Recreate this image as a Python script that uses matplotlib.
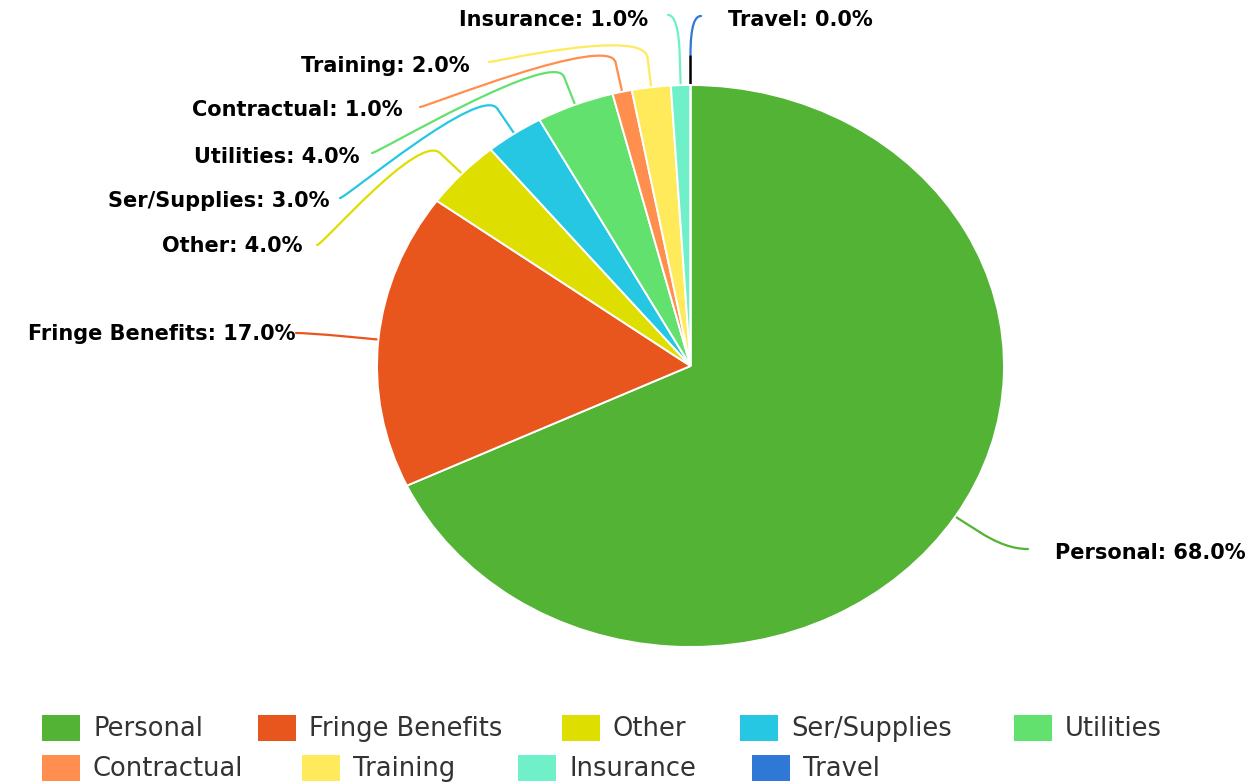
import numpy as np
from matplotlib import pyplot as plt
from matplotlib.path import Path
from matplotlib.patches import PathPatch, Rectangle

# budget shares in percent, pie drawn clockwise from 12 o'clock
names = ['Personal', 'Fringe Benefits', 'Other', 'Ser/Supplies', 'Utilities',
         'Contractual', 'Training', 'Insurance', 'Travel']
values = [68.0, 17.0, 4.0, 3.0, 4.0, 1.0, 2.0, 1.0, 0.0]
colors = ['#53b335', '#e8561d', '#dede00', '#25c7e2', '#63e16e',
          '#ff8e4f', '#ffea5c', '#6ff0c8', '#2f78d6']

# label layout (pixels): text anchor, side, connector start
label_xy = [(1055, 553), (295, 334), (302, 246), (330, 201), (360, 157),
            (403, 110), (470, 66), (648, 20), (728, 20)]
label_ha = ['left', 'right', 'right', 'right', 'right', 'right', 'right', 'right', 'left']
conn_xy = [(1028, 549), (296, 333), (317, 245), (340, 198), (372, 153),
           (420, 107), (489, 62), (668, 15), (701, 16)]

# legend layout: two rows, box left edges
legend_x = [42, 258, 562, 740, 1014, 42, 302, 518, 752]
legend_row = [0, 0, 0, 0, 0, 1, 1, 1, 1]

W, H = 1255, 784
cx, cy, rx, ry = 690.5, 366.0, 313.5, 281.0
brk = 30.0

fig = plt.figure(figsize=(W / 100, H / 100), dpi=100)
fig.patch.set_facecolor('white')
ax = fig.add_axes([0, 0, 1, 1])
ax.set_xlim(0, W)
ax.set_ylim(H, 0)
ax.axis('off')

# pie in its own axes so it can be stretched to an ellipse
pax = fig.add_axes([(cx - rx) / W, 1 - (cy + ry) / H, 2 * rx / W, 2 * ry / H])
pax.pie(values, colors=colors, startangle=90, counterclock=False, radius=1,
        wedgeprops=dict(edgecolor='white', linewidth=1.4))
pax.set_aspect('auto')
pax.set_xlim(-1, 1)
pax.set_ylim(-1, 1)
pax.axis('off')

# connectors and labels
cum = np.cumsum(values) - np.array(values) / 2
ang = np.radians(90 - cum / np.sum(values) * 360)
for i, name in enumerate(names):
    ex, ey = cx + rx * np.cos(ang[i]), cy - ry * np.sin(ang[i])
    bx, by = cx + (rx + brk) * np.cos(ang[i]), cy - (ry + brk) * np.sin(ang[i])
    sx, sy = conn_xy[i]
    dx = 6 if sx < cx else -6
    curve = Path([(sx, sy), (sx + dx, sy), (2 * bx - ex, 2 * by - ey), (bx, by)],
                 [Path.MOVETO, Path.CURVE4, Path.CURVE4, Path.CURVE4])
    ax.add_patch(PathPatch(curve, fill=False, edgecolor=colors[i], lw=1.6,
                           capstyle='round'))
    # zero slice: straight part drawn dark
    seg_c = 'black' if values[i] == 0 else colors[i]
    ax.plot([bx, ex], [by, ey], color=seg_c, lw=1.8 if values[i] == 0 else 1.6,
            solid_capstyle='butt')
    tx, ty = label_xy[i]
    ax.text(tx, ty, f'{name}: {values[i]:.1f}%', ha=label_ha[i], va='center',
            fontsize=15, fontweight='bold', family='DejaVu Sans', color='black')

# legend
for i, name in enumerate(names):
    yc = 728 + 40 * legend_row[i]
    ax.add_patch(Rectangle((legend_x[i], yc - 13), 38, 26, facecolor=colors[i],
                           edgecolor='none'))
    ax.text(legend_x[i] + 51, yc + 1, name, ha='left', va='center', fontsize=18.5,
            family='DejaVu Sans', color='#333333')

fig.savefig('out.png', dpi=100, facecolor='white')
